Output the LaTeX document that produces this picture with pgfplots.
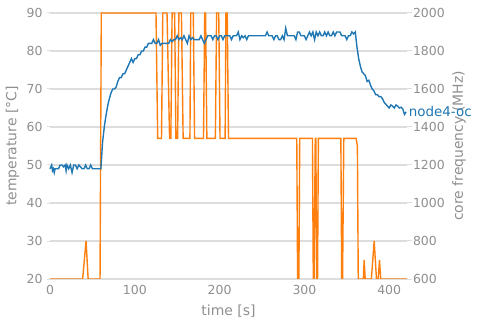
\documentclass[border=0pt]{standalone}
\usepackage{pgfplots}
\pgfplotsset{compat=1.18}
\usepackage{fontspec}
\setmainfont{DejaVu Sans}
\definecolor{tblue}{HTML}{1F77B4}
\definecolor{torange}{HTML}{FF7F0E}
\definecolor{gridc}{HTML}{DDDDDD}
\definecolor{labc}{HTML}{8F8F8F}
\begin{document}
\begin{tikzpicture}
\useasboundingbox (-50bp,-46bp) rectangle (432bp,279bp);
\pgfplotsset{
  base/.style={
    scale only axis, width=357bp, height=266bp,
    at={(0,0)}, anchor=south west,
    xmin=0, xmax=421,
    axis line style={draw=none},
    tick align=outside,
    /pgf/number format/assume math mode=true,
    /pgf/number format/1000 sep={},
    ticklabel style={font=\fontsize{12.5}{15}\selectfont, color=labc},
    label style={font=\fontsize{14}{16}\selectfont, color=labc},
  }
}
% frequency axis (drawn first, carries the grid)
\begin{axis}[base,
  ymin=600, ymax=2000,
  ytick={600,800,...,2000},
  ytick pos=right, yticklabel pos=right,
  xtick=\empty,
  ymajorgrids, grid style={gridc, line width=1.2bp},
  major tick length=4.5bp,
  ytick style={color=gridc, line width=1bp},
  yticklabel style={xshift=-2bp},
  ylabel={core frequency (MHz)},
  ylabel style={at={(axis description cs:1,0.5)}, anchor=center, yshift=-52bp},
]
\addplot[torange, line width=1.4bp] table {
0 600
38.5 600
42.5 800
45 600
59 600
60.5 2000
125 2000
127 1340
131.5 1340
133 2000
138 2000
141 1340
142.5 1340
144 2000
147 2000
148.5 1340
150.5 1340
152 2000
155 2000
157 1340
165 1340
166 2000
169 2000
170.5 1340
181 1340
182.5 2000
183.5 2000
185 1340
195 1340
196.5 2000
199 2000
200.5 1340
206.5 1340
207.5 2000
209 2000
210.5 1340
291 1340
292 600
293.5 600
294.5 1340
309.5 1340
310.5 600
311.5 600
312.8 1340
313.5 1340
314.5 600
315.5 600
316.5 1340
343 1340
344 600
345 600
346.5 1340
361 1340
362.5 1300
363.5 600
369.5 600
370.5 700
371.7 600
379 600
382.3 800
385 600
387 600
388.6 700
390 600
421 600
};
\end{axis}
% temperature axis (drawn on top)
\begin{axis}[base,
  clip=false,
  ymin=20, ymax=90,
  ytick={20,30,...,90},
  xtick={0,100,...,400},
  ytick pos=left, xtick pos=bottom,
  major tick length=3bp,
  xtick style={draw=none},
  ytick style={color=gridc, line width=1bp},
  yticklabel style={xshift=-1bp},
  xlabel={time [s]},
  ylabel={temperature [°C]},
  xlabel style={at={(axis description cs:0.5,0)}, anchor=base, yshift=-36bp},
  ylabel style={at={(axis description cs:0,0.5)}, anchor=center, yshift=37.5bp},
]
\addplot[tblue, line width=1.4bp] table {
0 49
2 50
3 48.5
4 49
5 48
6 49
8 49
10 49
12 50
14 50
16 49.5
18 50
19 48.5
20 50
22 49
24 50
26 48
28 50
30 50
32 49
34 50
36 49.5
38 49
40 49
42 50
44 49
46 49
48 50
50 49
52 49
54 49
56 49
58 49
60 49
62 56
64 60
66 63
68 65.5
70 67.5
72 69
74 70
76 70
78 70.5
80 72
82 73
84 73
86 74
88 74
90 75
92 76
94 77
96 78
98 77
100 78
102 78
104 79
106 79
108 80
110 80
112 81
114 81
116 82
118 82
120 82
122 83
124 82
126 82
128 83
130 81.5
132 82
134 82
136 82
138 82
140 82
142 83
144 82.5
146 83
148 83
150 84
152 83
154 83.5
156 83
158 84
160 83
162 82
164 84
166 83
168 83.5
170 83
172 83
174 83
176 83
178 84
180 83
182 82
184 83
186 84
188 84
190 84
192 83
194 84
196 84
198 83
200 84
202 84
204 83
206 84
208 84
210 84
212 84
214 83
216 84
218 84
220 84
222 85
224 83
226 84
228 83.5
230 84
232 83
234 84
236 84
238 84
240 84
242 84
244 84
246 84
248 84
250 84
252 84
254 84
256 85
258 84
260 84
262 84
264 83
266 84
268 84
270 83
272 83
274 84
276 83
278 86
280 84
282 84
284 84
286 84
288 84
290 83
292 85
294 85
296 84
298 84
300 84
302 83
304 84
306 85
308 84
310 85
312 83
314 85
316 84
318 85
320 84
322 84
324 85
326 84
328 85
330 84
332 84
334 85
336 84
338 85
340 85
342 85
344 84
346 84
348 84
350 83
352 84
354 84
356 85
358 84.5
360 85
362 81
364 78
366 76
368 74.5
370 74
372 73.5
374 72
376 72.3
378 71
380 70
382 69.5
384 68.5
386 68.5
388 68
390 68
392 67.5
394 66.5
396 66
398 65.5
400 65
402 65.8
404 65.5
406 65
408 65.8
410 65.5
412 65
414 65.2
416 64.8
418 63.3
420 64
} node[pos=1, anchor=west, inner sep=2bp, text=tblue, font=\fontsize{13.5}{16}\selectfont] {node4-oc};
\end{axis}
\end{tikzpicture}
\end{document}
